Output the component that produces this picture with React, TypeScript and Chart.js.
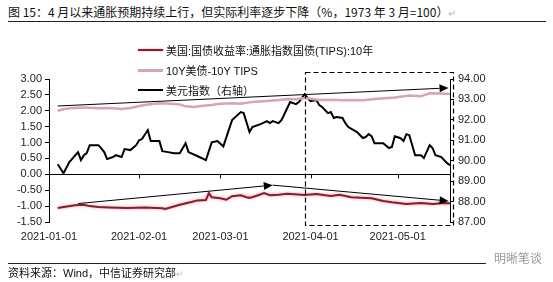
import React, { useEffect, useRef } from 'react';
import { Chart, registerables } from 'chart.js';

Chart.register(...registerables);

// ---- data (x = days since 2021-01-01) ----
const xTickDays = [0, 31, 59, 90, 120];
const xTickLabels = ['2021-01-01', '2021-02-01', '2021-03-01', '2021-04-01', '2021-05-01'];

const tipsDays = [3, 5, 9, 12, 14, 17, 21, 27, 33, 39, 40, 45, 49, 51, 54, 55, 56, 59, 61, 63, 66, 68, 69, 72, 74, 76, 79, 82, 88, 92, 97, 100, 104, 111, 115, 118, 123, 128, 132, 136, 138];
const tipsValues = [-1.06, -1.03, -0.97, -0.96, -1.0, -1.03, -1.04, -1.06, -1.04, -1.07, -1.09, -0.96, -0.87, -0.82, -0.81, -0.59, -0.72, -0.75, -0.8, -0.69, -0.66, -0.72, -0.74, -0.66, -0.59, -0.66, -0.64, -0.61, -0.65, -0.62, -0.68, -0.64, -0.72, -0.75, -0.84, -0.88, -0.93, -0.9, -0.93, -0.9, -0.91];

const beiDays = [3, 5, 7, 12, 17, 21, 25, 28, 31, 34, 38, 42, 45, 47, 50, 52, 56, 58, 63, 66, 70, 75, 79, 82, 85, 88, 90, 93, 97, 101, 104, 108, 114, 119, 124, 128, 131, 135, 138];
const beiValues = [2.0, 2.05, 2.08, 2.1, 2.08, 2.09, 2.06, 2.09, 2.15, 2.2, 2.24, 2.22, 2.2, 2.14, 2.12, 2.15, 2.18, 2.21, 2.24, 2.22, 2.28, 2.31, 2.34, 2.37, 2.36, 2.4, 2.38, 2.34, 2.35, 2.33, 2.34, 2.33, 2.39, 2.42, 2.48, 2.46, 2.55, 2.54, 2.53];

const usdDays = [3, 5, 7, 10, 11, 12, 13, 14, 17, 18, 19, 20, 22, 23, 25, 26, 28, 30, 31, 32, 34, 35, 38, 39, 41, 43, 45, 47, 48, 51, 54, 56, 58, 60, 63, 66, 67, 69, 70, 73, 75, 76, 77, 79, 80, 82, 83, 85, 86, 88, 89, 90, 92, 93, 94, 96, 97, 98, 99, 101, 102, 103, 106, 108, 109, 110, 111, 112, 115, 117, 118, 119, 121, 122, 123, 124, 126, 128, 129, 131, 132, 133, 135, 137, 138];
const usdValues = [89.83, 89.39, 89.93, 90.42, 90.03, 90.27, 90.37, 90.76, 90.76, 90.6, 90.42, 90.08, 90.18, 90.27, 90.18, 90.57, 90.52, 90.76, 91.0, 91.06, 91.5, 90.96, 90.96, 90.47, 90.42, 90.37, 90.37, 90.86, 90.42, 90.23, 90.03, 90.9, 90.96, 90.7, 91.99, 92.38, 92.33, 91.4, 91.65, 91.8, 91.94, 91.84, 91.94, 91.84, 91.99, 92.58, 92.87, 92.77, 92.87, 93.26, 93.07, 92.92, 92.97, 92.73, 92.63, 92.33, 92.38, 92.09, 92.14, 92.09, 91.84, 91.65, 91.4, 91.11, 91.16, 91.3, 91.2, 90.86, 90.86, 90.62, 90.67, 91.2, 91.1, 90.96, 91.3, 91.25, 90.27, 90.27, 90.13, 90.76, 90.62, 90.27, 90.18, 89.88, 89.78];

// annotation arrows (left-axis units)
const arrowFromDays = [3, 10, 77];
const arrowFromValues = [2.15, -0.92, -0.34];
const arrowToDays = [137.5, 77, 137.5];
const arrowToValues = [2.72, -0.34, -0.84];
// dashed box (left-axis units)
const boxDays = [88, 138.8];
const boxValues = [-1.6, 3.22];

const seriesNames = ['美国:国债收益率:通胀指数国债(TIPS):10年', '10Y美债-10Y TIPS', '美元指数（右轴）'];
const seriesColors = ['#8b1c2a', '#d9a3b0', '#000000'];

const toPoints = (xs: number[], ys: number[]) => xs.map((x, i) => ({ x, y: ys[i] }));

const annotPlugin = {
  id: 'annot',
  beforeDatasetDraw(chart: any, args: any) {
    if (args.index === 0) {
      const c = chart.ctx;
      c.save();
      c.shadowColor = 'rgba(230,140,160,0.9)';
      c.shadowBlur = 3;
    }
  },
  afterDatasetDraw(chart: any, args: any) {
    if (args.index === 0) chart.ctx.restore();
  },
  afterDraw(chart: any) {
    const c = chart.ctx;
    const xs = chart.scales.x;
    const yl = chart.scales.y;
    c.save();
    // month ticks on zero line
    const y0 = yl.getPixelForValue(0);
    c.strokeStyle = '#000';
    c.lineWidth = 1;
    xTickDays.forEach((d, i) => {
      if (i === 0) return;
      const px = Math.round(xs.getPixelForValue(d)) + 0.5;
      c.beginPath();
      c.moveTo(px, y0);
      c.lineTo(px, y0 + 4);
      c.stroke();
    });
    // dashed box
    const bx1 = xs.getPixelForValue(boxDays[0]);
    const bx2 = xs.getPixelForValue(boxDays[1]);
    const by1 = yl.getPixelForValue(boxValues[1]);
    const by2 = yl.getPixelForValue(boxValues[0]);
    c.setLineDash([5, 3]);
    c.lineWidth = 1.2;
    c.strokeRect(Math.round(bx1) + 0.5, Math.round(by1) + 0.5, Math.round(bx2 - bx1), Math.round(by2 - by1));
    c.setLineDash([]);
    // arrows
    c.lineWidth = 1;
    c.fillStyle = '#000';
    arrowFromDays.forEach((d, i) => {
      const x1 = xs.getPixelForValue(d);
      const y1 = yl.getPixelForValue(arrowFromValues[i]);
      const x2 = xs.getPixelForValue(arrowToDays[i]);
      const y2 = yl.getPixelForValue(arrowToValues[i]);
      const ang = Math.atan2(y2 - y1, x2 - x1);
      const hl = 9, hw = 4;
      const bxp = x2 - hl * Math.cos(ang);
      const byp = y2 - hl * Math.sin(ang);
      c.beginPath();
      c.moveTo(x1, y1);
      c.lineTo(bxp, byp);
      c.stroke();
      c.beginPath();
      c.moveTo(x2, y2);
      c.lineTo(bxp + hw * Math.sin(ang), byp - hw * Math.cos(ang));
      c.lineTo(bxp - hw * Math.sin(ang), byp + hw * Math.cos(ang));
      c.closePath();
      c.fill();
    });
    c.restore();
  },
};

const tickFont = { family: '"Liberation Sans", Arial, sans-serif', size: 11 };

export default function App() {
  const ref = useRef<HTMLCanvasElement | null>(null);
  useEffect(() => {
    if (!ref.current) return;
    const chart = new Chart(ref.current, {
      type: 'line',
      data: {
        datasets: [
          {
            label: seriesNames[0],
            data: toPoints(tipsDays, tipsValues),
            borderColor: seriesColors[0],
            borderWidth: 2,
            pointRadius: 0,
            yAxisID: 'y',
            tension: 0,
          },
          {
            label: seriesNames[1],
            data: toPoints(beiDays, beiValues),
            borderColor: seriesColors[1],
            borderWidth: 2.5,
            pointRadius: 0,
            yAxisID: 'y',
            tension: 0,
          },
          {
            label: seriesNames[2],
            data: toPoints(usdDays, usdValues),
            borderColor: seriesColors[2],
            borderWidth: 2,
            pointRadius: 0,
            yAxisID: 'y1',
            tension: 0,
          },
        ],
      },
      options: {
        animation: false,
        responsive: false,
        maintainAspectRatio: false,
        layout: { padding: { top: 79, left: 0, right: 0, bottom: 0 } },
        plugins: { legend: { display: false }, tooltip: { enabled: false } },
        scales: {
          x: {
            type: 'linear',
            min: 0,
            max: 138,
            afterBuildTicks: (s: any) => {
              s.ticks = xTickDays.map((v) => ({ value: v }));
            },
            afterFit: (s: any) => {
              s.height = 60;
            },
            border: { display: false },
            grid: { drawOnChartArea: false, drawTicks: false },
            ticks: {
              autoSkip: false,
              maxRotation: 0,
              padding: 8,
              color: '#222',
              font: tickFont,
              callback: (v: any) => {
                const i = xTickDays.indexOf(Number(v));
                return i >= 0 ? xTickLabels[i] : '';
              },
            },
          },
          y: {
            position: 'left',
            min: -1.5,
            max: 3,
            afterFit: (s: any) => {
              s.width = 49;
            },
            border: { display: true, color: '#000', width: 1 },
            grid: {
              drawOnChartArea: true,
              color: (ctx: any) => (ctx.tick && Math.abs(ctx.tick.value) < 1e-9 ? '#000' : 'rgba(0,0,0,0)'),
              tickColor: '#000',
              tickLength: 4,
            },
            ticks: {
              stepSize: 0.5,
              autoSkip: false,
              padding: 3,
              color: '#222',
              font: tickFont,
              callback: (v: any) => Number(v).toFixed(2),
            },
          },
          y1: {
            position: 'right',
            min: 87,
            max: 94,
            afterFit: (s: any) => {
              s.width = 103;
            },
            border: { display: true, color: '#000', width: 1 },
            grid: { drawOnChartArea: false, tickColor: '#000', tickLength: 4 },
            ticks: {
              stepSize: 1,
              autoSkip: false,
              padding: 4,
              color: '#222',
              font: tickFont,
              callback: (v: any) => Number(v).toFixed(2),
            },
          },
        },
      },
      plugins: [annotPlugin],
    } as any);
    return () => chart.destroy();
  }, []);

  const cjk = '"Liberation Sans", "Noto Sans CJK SC", sans-serif';
  return (
    <div style={{ position: 'fixed', left: 0, top: 0, width: 553, height: 282, background: '#fff', overflow: 'hidden' }}>
      <div style={{ position: 'absolute', left: 8, top: 4, fontFamily: '"Noto Sans CJK SC", sans-serif', fontSize: 12, lineHeight: '16px', color: '#111', whiteSpace: 'nowrap' }}>
        图 15：4 月以来通胀预期持续上行，但实际利率逐步下降（%，1973 年 3 月=100）<span style={{ color: '#bbb', fontSize: 10 }}>↵</span>
      </div>
      <div style={{ position: 'absolute', left: 8, top: 21, width: 538, height: 1, background: '#222' }} />
      <canvas ref={ref} width={553} height={282} style={{ position: 'absolute', left: 0, top: 0, width: 553, height: 282 }} />
      {seriesNames.map((n, i) => (
        <div key={n} style={{ position: 'absolute', left: 138, top: 42 + i * 20, height: 16, display: 'flex', alignItems: 'center', whiteSpace: 'nowrap' }}>
          <div style={{ width: 25, height: i === 1 ? 3 : 2, background: seriesColors[i], boxShadow: i === 0 ? '0 0 2px rgba(230,140,160,0.9)' : 'none' }} />
          <span style={{ marginLeft: 3, fontFamily: cjk, fontSize: 11, color: '#111' }}>{n}</span>
        </div>
      ))}
      <div style={{ position: 'absolute', left: 8, top: 263, width: 478, height: 1, background: '#222' }} />
      <div style={{ position: 'absolute', left: 8, top: 266, fontFamily: cjk, fontSize: 11, lineHeight: '15px', color: '#111', whiteSpace: 'nowrap' }}>
        资料来源：Wind，中信证券研究部<span style={{ color: '#bbb', fontSize: 9 }}>↵</span>
      </div>
      <div style={{ position: 'absolute', left: 494, top: 250, fontFamily: '"Noto Sans CJK SC", sans-serif', fontSize: 12, lineHeight: '15px', color: '#9a9a9a', whiteSpace: 'nowrap' }}>
        明晰笔谈
      </div>
    </div>
  );
}
